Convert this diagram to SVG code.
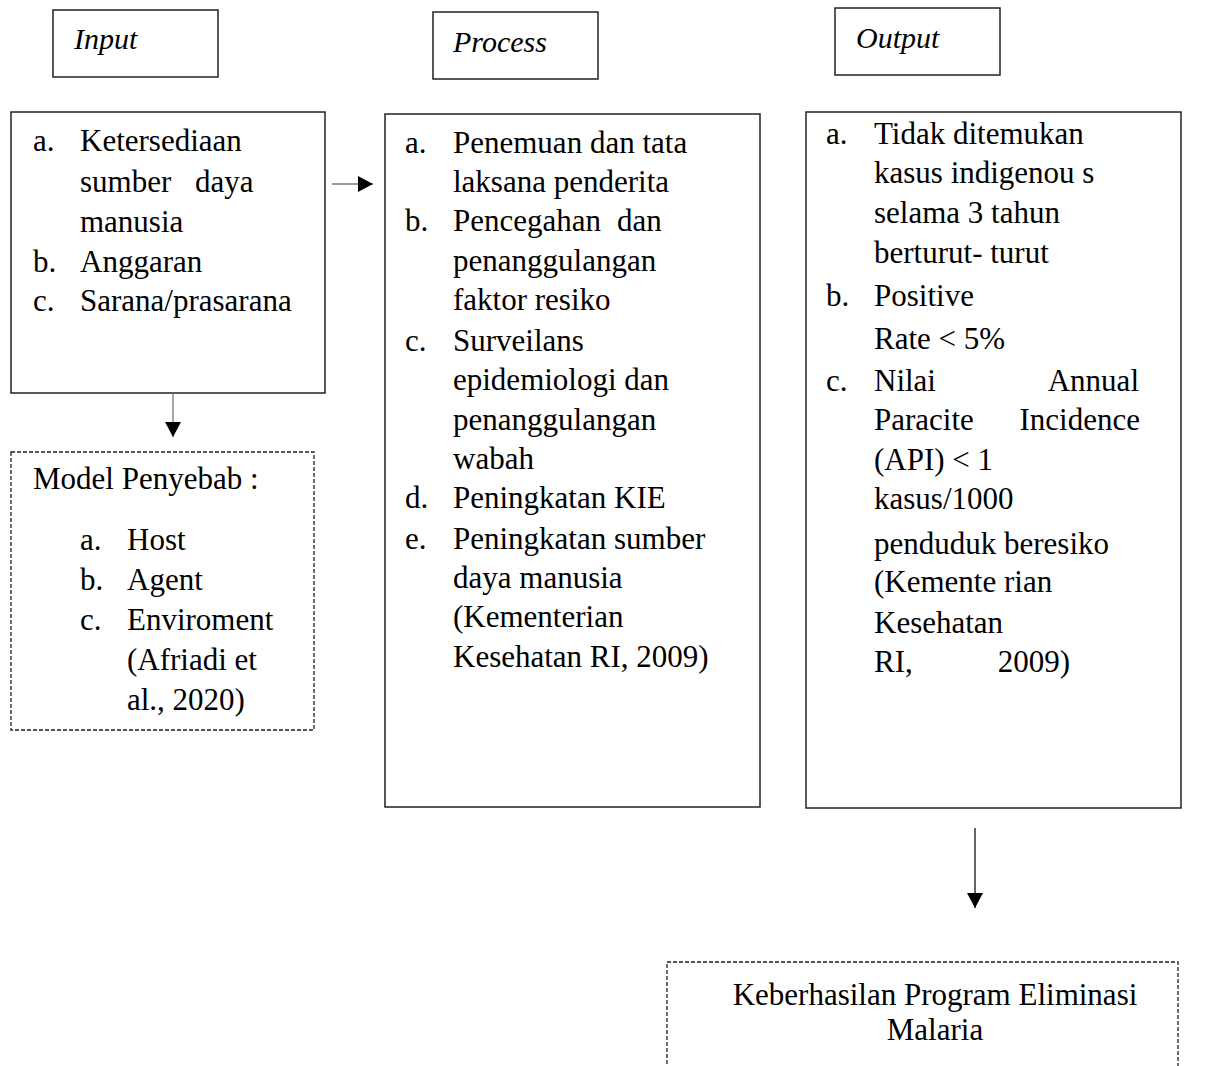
<svg xmlns="http://www.w3.org/2000/svg" width="1210" height="1066" viewBox="0 0 1210 1066">
<style>
text{font-family:"Liberation Serif","Times New Roman",serif;font-size:31px;fill:#000}
.it{font-style:italic;font-size:30px}
.box{fill:#fff;stroke:#222;stroke-width:1.5}
.dbox{fill:#fff;stroke:#222;stroke-width:1.3;stroke-dasharray:4 2}
.ln{stroke:#777;stroke-width:1.3;fill:none}
.ln2{stroke:#111;stroke-width:1.3;fill:none}
</style>
<defs>
<marker id="ah" markerWidth="16" markerHeight="16" refX="15" refY="8" orient="auto" markerUnits="userSpaceOnUse">
<path d="M0,0 L15,8 L0,16 Z" fill="#000"/>
</marker>
</defs>
<rect width="1210" height="1066" fill="#fff"/>
<g id="input-header">
<rect class="box" x="53" y="10" width="165" height="67"/>
<text class="it" x="74" y="49">Input</text>
</g>
<g id="process-header">
<rect class="box" x="433" y="12" width="165" height="67"/>
<text class="it" x="453" y="52">Process</text>
</g>
<g id="output-header">
<rect class="box" x="835" y="8" width="165" height="67"/>
<text class="it" x="856" y="48">Output</text>
</g>
<g id="input">
<rect class="box" x="11" y="112" width="314" height="281"/>
<text x="33" y="151">a.</text><text x="80" y="151">Ketersediaan</text>
<text x="80" y="192">sumber</text><text x="195" y="192">daya</text>
<text x="80" y="232">manusia</text>
<text x="33" y="272">b.</text><text x="80" y="272">Anggaran</text>
<text x="33" y="311">c.</text><text x="80" y="311">Sarana/prasarana</text>
</g>
<g id="process">
<rect class="box" x="385" y="114" width="375" height="693"/>
<text x="405" y="153">a.</text><text x="453" y="153">Penemuan dan tata</text>
<text x="453" y="192">laksana penderita</text>
<text x="405" y="231">b.</text><text x="453" y="231">Pencegahan</text><text x="617" y="231">dan</text>
<text x="453" y="271">penanggulangan</text>
<text x="453" y="310">faktor resiko</text>
<text x="405" y="351">c.</text><text x="453" y="351">Surveilans</text>
<text x="453" y="390">epidemiologi dan</text>
<text x="453" y="430">penanggulangan</text>
<text x="453" y="469">wabah</text>
<text x="405" y="508">d.</text><text x="453" y="508">Peningkatan KIE</text>
<text x="405" y="549">e.</text><text x="453" y="549">Peningkatan sumber</text>
<text x="453" y="588">daya manusia</text>
<text x="453" y="627">(Kementerian</text>
<text x="453" y="667">Kesehatan RI, 2009)</text>
</g>
<g id="output">
<rect class="box" x="806" y="112" width="375" height="696"/>
<text x="826" y="144">a.</text><text x="874" y="144">Tidak ditemukan</text>
<text x="874" y="183">kasus indigenou s</text>
<text x="874" y="223">selama 3 tahun</text>
<text x="874" y="263">berturut- turut</text>
<text x="826" y="306">b.</text><text x="874" y="306">Positive</text>
<text x="874" y="349">Rate &lt; 5%</text>
<text x="826" y="391">c.</text><text x="874" y="391">Nilai</text><text x="1139" y="391" text-anchor="end">Annual</text>
<text x="874" y="430">Paracite</text><text x="1140" y="430" text-anchor="end">Incidence</text>
<text x="874" y="470">(API) &lt; 1</text>
<text x="874" y="509">kasus/1000</text>
<text x="874" y="554">penduduk beresiko</text>
<text x="874" y="592">(Kemente rian</text>
<text x="874" y="633">Kesehatan</text>
<text x="874" y="672">RI,</text><text x="1070" y="672" text-anchor="end">2009)</text>
</g>
<g id="model-penyebab">
<rect class="dbox" x="11" y="452" width="303" height="278"/>
<text x="33" y="489">Model Penyebab :</text>
<text x="80" y="550">a.</text><text x="127" y="550">Host</text>
<text x="80" y="590">b.</text><text x="127" y="590">Agent</text>
<text x="80" y="630">c.</text><text x="127" y="630">Enviroment</text>
<text x="127" y="670">(Afriadi et</text>
<text x="127" y="710">al., 2020)</text>
</g>
<g id="keberhasilan">
<path class="dbox" d="M667,1070 L667,962 L1178,962 L1178,1070"/>
<text x="935" y="1005" text-anchor="middle">Keberhasilan Program Eliminasi</text>
<text x="935" y="1040" text-anchor="middle">Malaria</text>
</g>
<g id="connectors">
<line class="ln" x1="332" y1="184" x2="373" y2="184" marker-end="url(#ah)"/>
<line class="ln" x1="173" y1="393" x2="173" y2="437" marker-end="url(#ah)"/>
<line class="ln2" x1="975" y1="828" x2="975" y2="908" marker-end="url(#ah)"/>
</g>
</svg>
